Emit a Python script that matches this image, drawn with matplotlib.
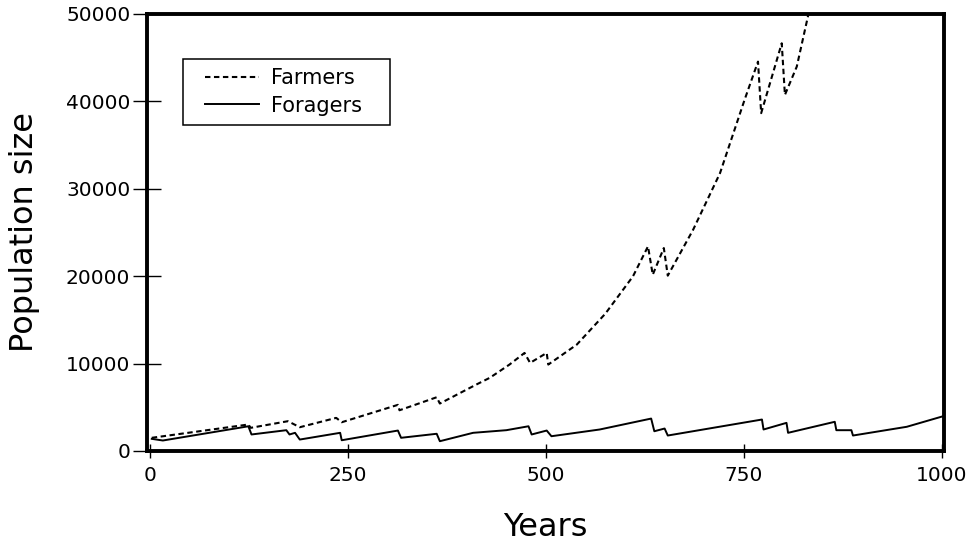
import matplotlib
matplotlib.use("Agg")
import matplotlib.pyplot as plt
from matplotlib.lines import Line2D
from matplotlib.legend_handler import HandlerLine2D

# Farmers (dashed)
farmer_years = [2, 124, 127, 174, 189, 235, 242, 313, 315, 362, 366, 412, 429, 454,
                473, 480, 501, 503, 539, 575, 610, 629, 635, 649, 654, 686, 720,
                751, 768, 772, 798, 802, 817, 833]
farmer_pop = [1510, 3030, 2650, 3410, 2720, 3790, 3290, 5280, 4660, 6150, 5430, 7600,
              8370, 9890, 11220, 10080, 11220, 9890, 12170, 15700, 19980, 23410,
              20170, 23220, 20060, 25310, 31790, 40170, 44550, 38650, 46650, 40740,
              43980, 50500]

# Foragers (solid)
forager_years = [2, 16, 117, 124, 128, 172, 176, 183, 189, 240, 242, 313, 317, 362,
                 366, 408, 450, 478, 482, 501, 507, 568, 633, 637, 650, 654, 773,
                 775, 804, 806, 865, 867, 886, 888, 956, 1002]
forager_pop = [1390, 1200, 2720, 2830, 1890, 2380, 1890, 2080, 1310, 2080, 1230, 2340,
               1510, 1970, 1120, 2080, 2380, 2830, 1890, 2340, 1690, 2460, 3710, 2260,
               2570, 1770, 3600, 2460, 3220, 2080, 3340, 2380, 2380, 1770, 2770, 3980]

x_ticks = [0, 250, 500, 750, 1000]
y_ticks = [0, 10000, 20000, 30000, 40000, 50000]

plt.rcParams["font.family"] = ["DejaVu Sans"]

fig = plt.figure(figsize=(9.77, 5.46), dpi=100)
ax = fig.add_axes([0.1505, 0.174, 0.8157, 0.8004])

ax.plot(farmer_years, farmer_pop, color="black", lw=1.5, linestyle=(0, (2.6, 1.7)),
        label="Farmers")
ax.plot(forager_years, forager_pop, color="black", lw=1.4, label="Foragers")

ax.set_xlim(-4, 1003)
ax.set_ylim(0, 50000)
ax.set_xticks(x_ticks)
ax.set_yticks(y_ticks)
ax.set_xticklabels([str(v) for v in x_ticks])
ax.set_yticklabels([str(v) for v in y_ticks])

for side in ["left", "right", "top", "bottom"]:
    ax.spines[side].set_linewidth(2.8)

ax.tick_params(axis="x", direction="inout", length=10, width=1, labelsize=14.5, pad=6)
ax.tick_params(axis="y", direction="inout", length=20, width=1, labelsize=14.5, pad=2)

ax.set_xlabel("Years", fontsize=23, labelpad=19)
ax.set_ylabel("Population size", fontsize=23, labelpad=19)

# box stretched to the width of the original legend frame
leg = ax.legend(loc="upper left", bbox_to_anchor=(0.045, 0.5, 0.2594, 0.397),
                mode="expand", borderaxespad=0, fontsize=15, handlelength=3.2,
                handletextpad=0.6, fancybox=False, frameon=True, borderpad=0.45,
                labelspacing=0.35, handler_map={Line2D: HandlerLine2D(xpad=0.6)})
leg.get_frame().set_edgecolor("black")
leg.get_frame().set_linewidth(1.1)
leg.get_frame().set_alpha(1)

fig.savefig("out.png", dpi=100)
